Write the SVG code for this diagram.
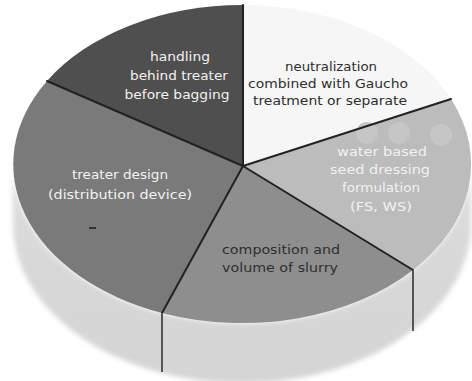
<svg xmlns="http://www.w3.org/2000/svg" width="472" height="381" viewBox="0 0 472 381">
  <style>
    .lbl { font-family: "DejaVu Sans", "Liberation Sans", sans-serif; font-size: 13px; text-anchor: middle; }
    .lt { fill: #f2f2f2; }
    .dk { fill: #2e2e2e; }
    .div { stroke: #222; stroke-width: 2; fill: none; stroke-linecap: round; }
    .sidediv { stroke: #555; stroke-width: 2; fill: none; }
  </style>
  <defs>
    <linearGradient id="sideGrad" x1="0" y1="0" x2="0" y2="1">
      <stop offset="0" stop-color="#dcdcdc"/>
      <stop offset="1" stop-color="#d4d4d4"/>
    </linearGradient>
    <filter id="soft" x="-5%" y="-5%" width="110%" height="110%">
      <feGaussianBlur stdDeviation="2.5"/>
    </filter>
  </defs>
  <rect width="472" height="381" fill="#ffffff"/>

  <g id="side">
    <path d="M13,164 L13,224 A229,159 0 0 0 471,224 L471,164 A229,159 0 0 1 13,164 Z" fill="url(#sideGrad)" filter="url(#soft)"/>
  </g>

  <g id="neutralization">
    <path d="M243,166 L243,5 A229,159 0 0 1 451,99 Z" fill="#f6f6f6"/>
    <text class="lbl dk" x="331" y="71" textLength="92" lengthAdjust="spacingAndGlyphs">neutralization</text>
    <text class="lbl dk" x="328" y="88" textLength="160" lengthAdjust="spacingAndGlyphs">combined with Gaucho</text>
    <text class="lbl dk" x="330" y="105" textLength="154" lengthAdjust="spacingAndGlyphs">treatment or separate</text>
  </g>

  <g id="water-based">
    <path d="M243,166 L451,99 A229,159 0 0 1 413,270 Z" fill="#bcbcbc"/>
    <circle cx="367" cy="133" r="11" fill="#c6c6c6"/>
    <circle cx="399" cy="133" r="11" fill="#c6c6c6"/>
    <circle cx="441" cy="135" r="11" fill="#c6c6c6"/>
    <text class="lbl lt" x="382" y="156" textLength="90" lengthAdjust="spacingAndGlyphs">water based</text>
    <text class="lbl lt" x="380" y="174" textLength="100" lengthAdjust="spacingAndGlyphs">seed dressing</text>
    <text class="lbl lt" x="381" y="192" textLength="78" lengthAdjust="spacingAndGlyphs">formulation</text>
    <text class="lbl lt" x="381" y="211" textLength="62" lengthAdjust="spacingAndGlyphs">(FS, WS)</text>
  </g>

  <g id="composition">
    <path d="M243,166 L413,270 A229,159 0 0 1 162,313 Z" fill="#8e8e8e"/>
    <text class="lbl dk" x="281" y="254" textLength="118" lengthAdjust="spacingAndGlyphs">composition and</text>
    <text class="lbl dk" x="280" y="272" textLength="116" lengthAdjust="spacingAndGlyphs">volume of slurry</text>
  </g>

  <g id="treater-design">
    <path d="M243,166 L162,313 A229,159 0 0 1 47,81 Z" fill="#7a7a7a"/>
    <text class="lbl lt" x="120" y="179" textLength="96" lengthAdjust="spacingAndGlyphs">treater design</text>
    <text class="lbl lt" x="120" y="199" textLength="144" lengthAdjust="spacingAndGlyphs">(distribution device)</text>
    <line x1="89" y1="228" x2="96" y2="228" stroke="#333" stroke-width="2"/>
  </g>

  <g id="handling">
    <path d="M243,166 L47,81 A229,159 0 0 1 243,5 Z" fill="#4f4f4f"/>
    <text class="lbl lt" x="180" y="61" textLength="60" lengthAdjust="spacingAndGlyphs">handling</text>
    <text class="lbl lt" x="179" y="80" textLength="98" lengthAdjust="spacingAndGlyphs">behind treater</text>
    <text class="lbl lt" x="177" y="99" textLength="105" lengthAdjust="spacingAndGlyphs">before bagging</text>
  </g>

  <g id="connectors">
    <line class="div" x1="243" y1="166" x2="243" y2="5"/>
    <line class="div" x1="243" y1="166" x2="47" y2="81"/>
    <line class="div" x1="243" y1="166" x2="451" y2="99"/>
    <line class="div" x1="243" y1="166" x2="413" y2="270"/>
    <line class="div" x1="243" y1="166" x2="162" y2="313"/>
    <line class="sidediv" x1="162" y1="313" x2="162" y2="372"/>
    <line class="sidediv" x1="413" y1="270" x2="413" y2="331"/>
  </g>
</svg>
